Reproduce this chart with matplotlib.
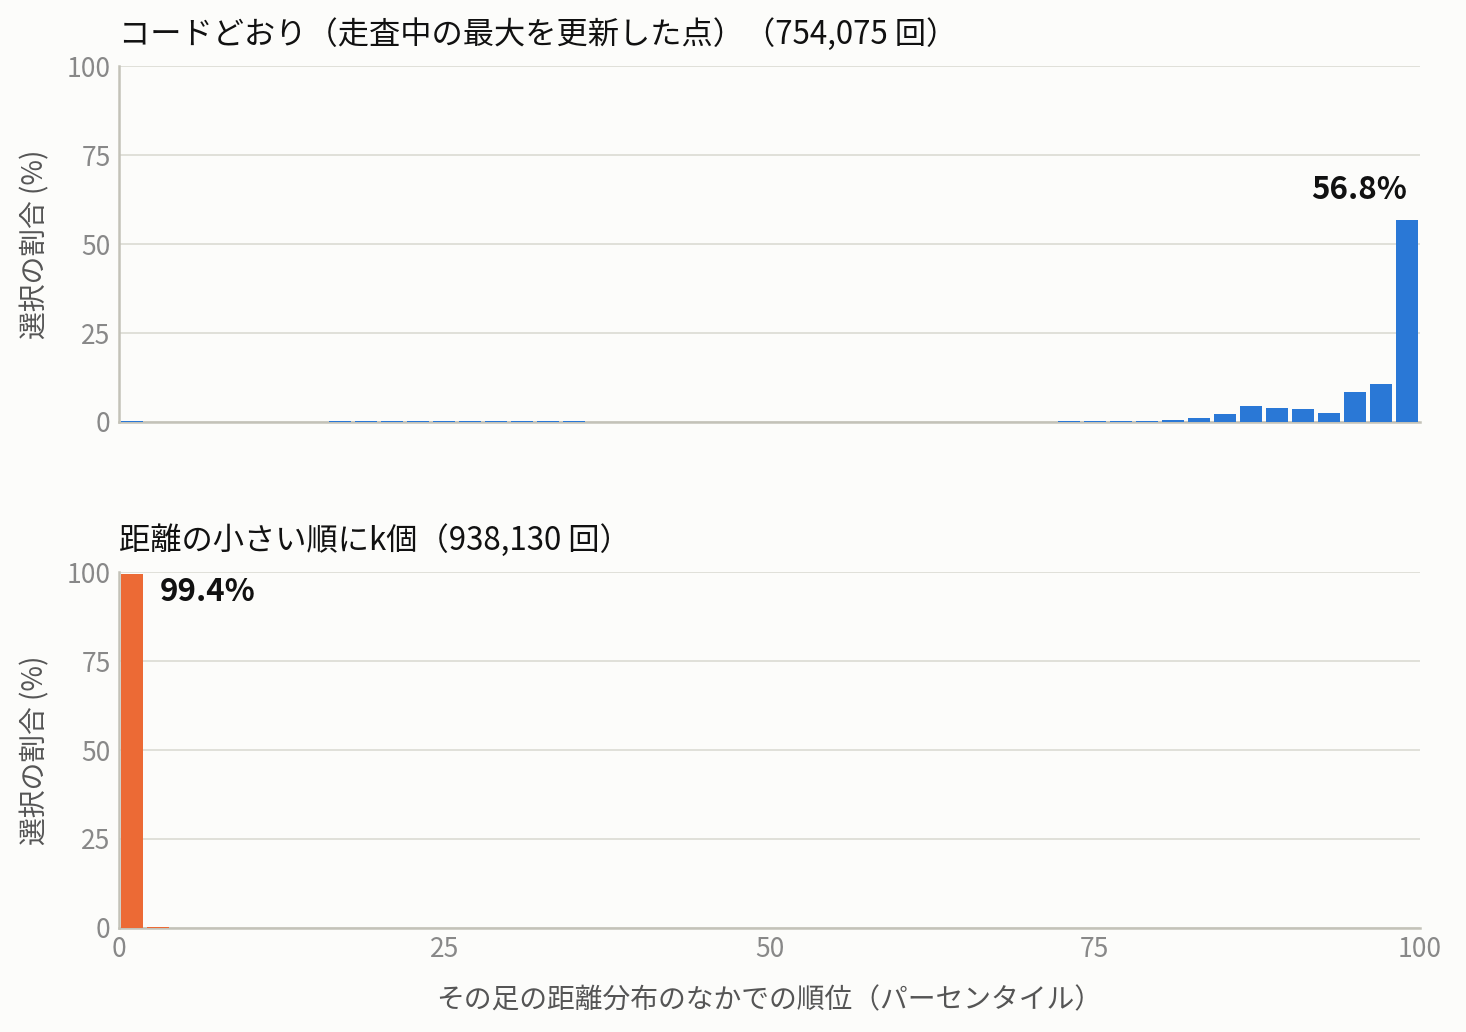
import matplotlib
matplotlib.use("Agg")
import matplotlib.pyplot as plt
import numpy as np

plt.rcParams["font.family"] = ["Noto Sans CJK JP", "DejaVu Sans"]

# 50 bins, 2 percentile points each
bin_left = np.arange(0, 100, 2)

# top panel: code as written (running maximum updates)
code_pct = np.zeros(50)
code_pct[0] = 0.2
code_pct[8:18] = [0.2, 0.2, 0.2, 0.2, 0.2, 0.2, 0.2, 0.2, 0.2, 0.2]
code_pct[36:40] = [0.2, 0.2, 0.2, 0.2]
code_pct[40:50] = [0.5, 1.1, 2.2, 4.5, 3.9, 3.6, 2.5, 8.4, 10.7, 56.8]

# bottom panel: k nearest
knn_pct = np.zeros(50)
knn_pct[0] = 99.4
knn_pct[1] = 0.25

panels = [
    ("コードどおり（走査中の最大を更新した点）（754,075 回）", code_pct, "#2a78d6", 49),
    ("距離の小さい順にk個（938,130 回）", knn_pct, "#ec6a35", 0),
]

bg = "#fcfcfa"
fig = plt.figure(figsize=(14.66, 10.32), dpi=100, facecolor=bg)
rects = [[0.0812, 0.5911, 0.8874, 0.3449], [0.0812, 0.1008, 0.8874, 0.3449]]

for i, (title, vals, color, peak) in enumerate(panels):
    ax = fig.add_axes(rects[i])
    ax.set_facecolor(bg)
    ax.bar(bin_left + 1, vals, width=1.7, color=color, zorder=3)
    ax.set_xlim(0, 100)
    ax.set_ylim(0, 100)
    ax.set_yticks([0, 25, 50, 75, 100])
    ax.set_xticks([0, 25, 50, 75, 100])
    ax.grid(True, axis="y", color="#deddd6", linewidth=1.3, zorder=0)
    for s in ["top", "right"]:
        ax.spines[s].set_visible(False)
    for s in ["left", "bottom"]:
        ax.spines[s].set_color("#c3c2b8")
        ax.spines[s].set_linewidth(1.8)
    ax.tick_params(length=0, labelsize=19, labelcolor="#888888", pad=6)
    ax.set_ylabel("選択の割合 (%)", fontsize=20, color="#555555", labelpad=12)
    ax.set_title(title, loc="left", fontsize=22.5, color="#111111", pad=16)
    if i == 0:
        ax.tick_params(axis="x", labelbottom=False)
        ax.text(bin_left[peak] + 2 - 1.0, vals[peak] + 4, f"{vals[peak]:.1f}%",
                ha="right", va="bottom", fontsize=22.5, fontweight="bold", color="#111111")
    else:
        ax.set_xlabel("その足の距離分布のなかでの順位（パーセンタイル）",
                      fontsize=20, color="#555555", labelpad=16)
        ax.text(bin_left[peak] + 3.1, vals[peak] - 0.5, f"{vals[peak]:.1f}%",
                ha="left", va="top", fontsize=22.5, fontweight="bold", color="#111111")

fig.savefig("out.png", dpi=100, facecolor=bg)
